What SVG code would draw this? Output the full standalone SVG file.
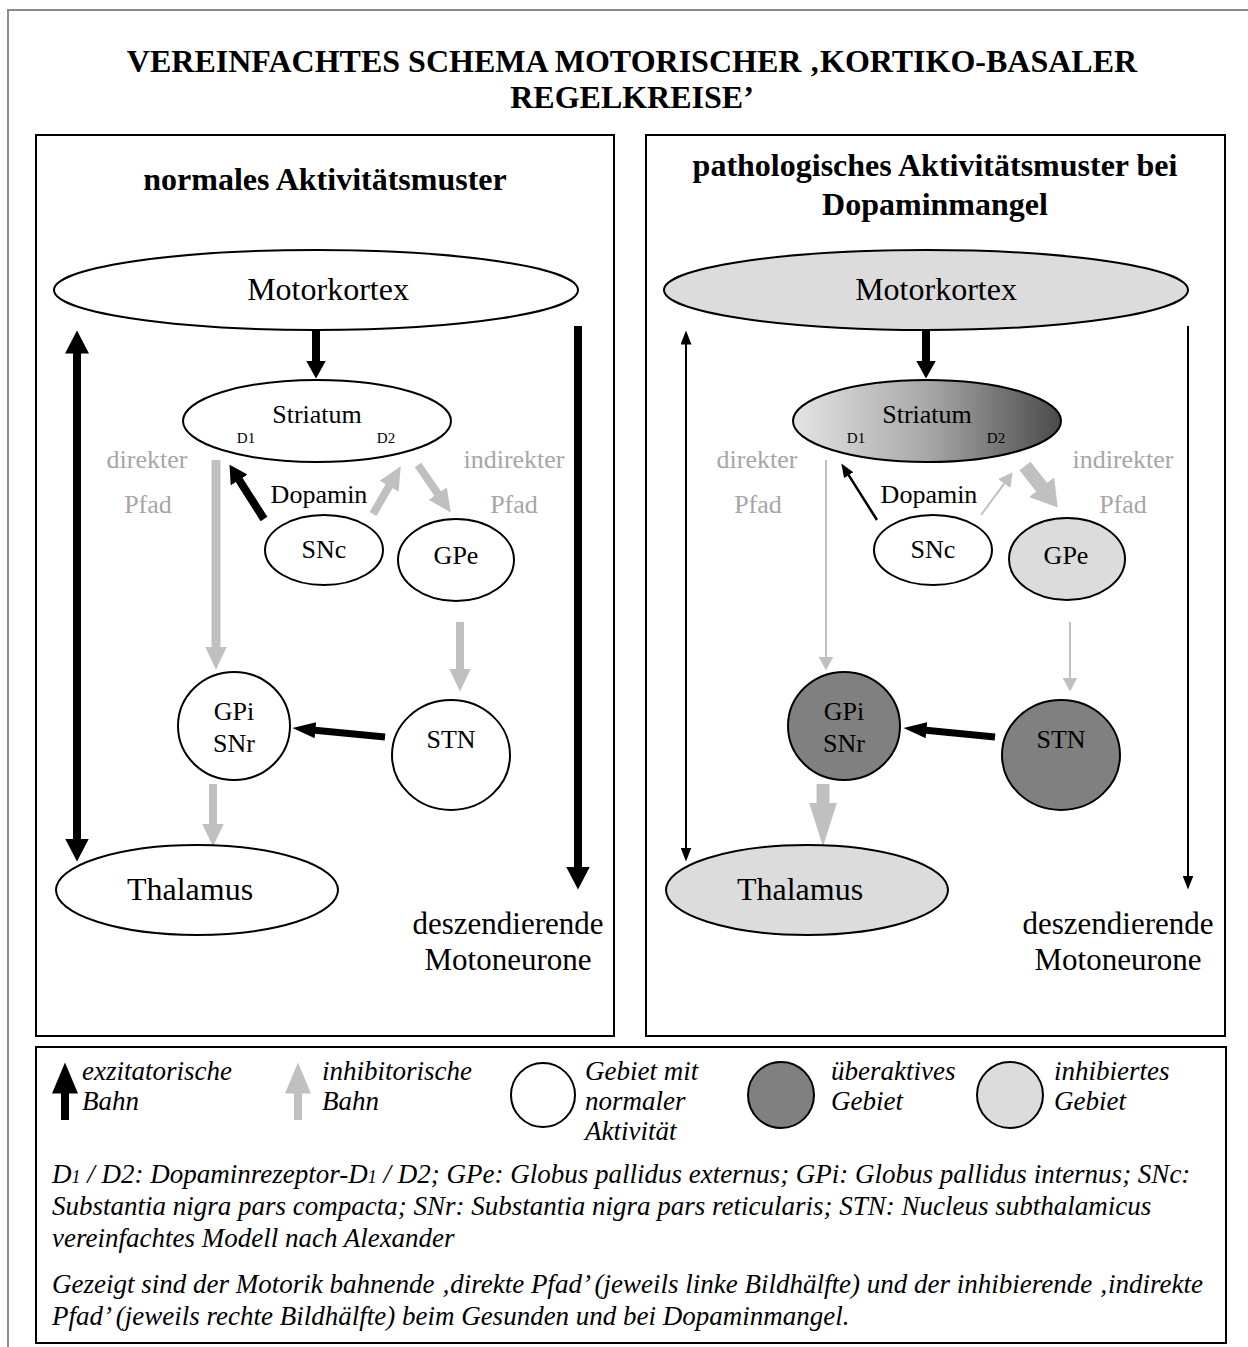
<svg xmlns="http://www.w3.org/2000/svg" width="1248" height="1347" viewBox="0 0 1248 1347">
<style>
text{font-family:"Liberation Serif","Times New Roman",serif;fill:#000}
.title{font-size:32px;font-weight:bold;text-anchor:middle}
.big{font-size:32px;text-anchor:middle}
.desc{font-size:31px;text-anchor:middle}
.mid{font-size:26px;text-anchor:middle}
.sm{font-size:15px;text-anchor:middle}
.path{font-size:26px;text-anchor:middle;fill:#a6a6a6}
.leg{font-size:27px;font-style:italic}
.node{stroke:#000;stroke-width:2}
.w{fill:#fff}
.lg{fill:#dcdcdc}
.dk{fill:#808080}
.panel{fill:none;stroke:#000;stroke-width:2}
.bk{stroke:#000;fill:none}
.gy{stroke:#c0c0c0;fill:none}
</style>
<defs>
<linearGradient id="strGrad" x1="0" y1="0" x2="1" y2="0">
<stop offset="0" stop-color="#e4e4e4"/>
<stop offset="0.5" stop-color="#a8a8a8"/>
<stop offset="1" stop-color="#4a4a4a"/>
</linearGradient>
<marker id="mBL" markerUnits="userSpaceOnUse" markerWidth="24" markerHeight="24" refX="0.5" refY="12" orient="auto-start-reverse"><path d="M0,0 L23,12 L0,24 z" fill="#000"/></marker>
<marker id="mBM" markerUnits="userSpaceOnUse" markerWidth="20" markerHeight="20" refX="0.5" refY="10" orient="auto"><path d="M0,0 L18,10 L0,20 z" fill="#000"/></marker>
<marker id="mBS" markerUnits="userSpaceOnUse" markerWidth="24" markerHeight="16" refX="0.5" refY="8" orient="auto"><path d="M0,0 L23,8 L0,16 z" fill="#000"/></marker>
<marker id="mBT" markerUnits="userSpaceOnUse" markerWidth="15" markerHeight="11" refX="0.5" refY="5.5" orient="auto-start-reverse"><path d="M0,0 L14,5.5 L0,11 z" fill="#000"/></marker>
<marker id="mG" markerUnits="userSpaceOnUse" markerWidth="24" markerHeight="22" refX="0.5" refY="11" orient="auto"><path d="M0,0 L23,11 L0,22 z" fill="#c0c0c0"/></marker>
<marker id="mGT" markerUnits="userSpaceOnUse" markerWidth="15" markerHeight="15" refX="0.5" refY="7.5" orient="auto"><path d="M0,0 L14,7.5 L0,15 z" fill="#c0c0c0"/></marker>
<marker id="mGL" markerUnits="userSpaceOnUse" markerWidth="27" markerHeight="32" refX="0.5" refY="16" orient="auto"><path d="M0,0 L26,16 L0,32 z" fill="#c0c0c0"/></marker>
<marker id="mGXL" markerUnits="userSpaceOnUse" markerWidth="45" markerHeight="28" refX="0.5" refY="14" orient="auto"><path d="M0,0 L44,14 L0,28 z" fill="#c0c0c0"/></marker>
<marker id="mLB" markerUnits="userSpaceOnUse" markerWidth="32" markerHeight="26" refX="0.5" refY="13" orient="auto"><path d="M0,0 L31,13 L0,26 z" fill="#000"/></marker>
<marker id="mLG" markerUnits="userSpaceOnUse" markerWidth="32" markerHeight="26" refX="0.5" refY="13" orient="auto"><path d="M0,0 L31,13 L0,26 z" fill="#c0c0c0"/></marker>
</defs>

<rect width="1248" height="1347" fill="#fff"/>
<polyline points="8,1347 8,10 1248,10" fill="none" stroke="#8c8c8c" stroke-width="2"/>

<g id="title">
<text class="title" x="632" y="72">VEREINFACHTES SCHEMA MOTORISCHER ‚KORTIKO-BASALER</text>
<text class="title" x="632" y="108">REGELKREISE’</text>
</g>

<g id="panel-left">
<rect class="panel" x="36" y="135" width="578" height="901"/>
<text class="title" x="325" y="190">normales Aktivitätsmuster</text>
<text class="path" x="147" y="468">direkter</text>
<text class="path" x="148" y="513">Pfad</text>
<text class="path" x="514" y="468">indirekter</text>
<text class="path" x="514" y="513">Pfad</text>
<text class="mid" x="319" y="503">Dopamin</text>
<text class="desc" x="508" y="934">deszendierende</text>
<text class="desc" x="508" y="970">Motoneurone</text>
</g>

<g id="panel-right">
<rect class="panel" x="646" y="135" width="579" height="901"/>
<text class="title" x="935" y="176">pathologisches Aktivitätsmuster bei</text>
<text class="title" x="935" y="215">Dopaminmangel</text>
<text class="path" x="757" y="468">direkter</text>
<text class="path" x="758" y="513">Pfad</text>
<text class="path" x="1123" y="468">indirekter</text>
<text class="path" x="1123" y="513">Pfad</text>
<text class="mid" x="929" y="503">Dopamin</text>
<text class="desc" x="1118" y="934">deszendierende</text>
<text class="desc" x="1118" y="970">Motoneurone</text>
</g>

<g id="connectors">
<line class="bk" x1="316" y1="331" x2="316" y2="361" stroke-width="8" marker-end="url(#mBM)"/>
<line class="bk" x1="77" y1="353" x2="77" y2="839" stroke-width="8" marker-start="url(#mBL)" marker-end="url(#mBL)"/>
<line class="bk" x1="578" y1="326" x2="578" y2="867" stroke-width="8" marker-end="url(#mBL)"/>
<line class="bk" x1="264" y1="519" x2="238.9" y2="479.6" stroke-width="8" marker-end="url(#mBM)"/>
<line class="gy" x1="373" y1="514" x2="389.4" y2="485.8" stroke-width="8" marker-end="url(#mG)"/>
<line class="gy" x1="418" y1="465" x2="438" y2="494" stroke-width="8" marker-end="url(#mG)"/>
<line class="gy" x1="216" y1="460" x2="216" y2="647" stroke-width="9" marker-end="url(#mG)"/>
<line class="gy" x1="460" y1="622" x2="460" y2="669" stroke-width="8" marker-end="url(#mG)"/>
<line class="bk" x1="385" y1="737" x2="314.9" y2="730.2" stroke-width="7" marker-end="url(#mBS)"/>
<line class="gy" x1="213" y1="784" x2="213" y2="824" stroke-width="8" marker-end="url(#mG)"/>
<line class="bk" x1="926" y1="331" x2="926" y2="361" stroke-width="8" marker-end="url(#mBM)"/>
<line class="bk" x1="686" y1="344" x2="686" y2="848" stroke-width="2" marker-start="url(#mBT)" marker-end="url(#mBT)"/>
<line class="bk" x1="1188" y1="326" x2="1188" y2="876" stroke-width="2" marker-end="url(#mBT)"/>
<line class="bk" x1="877" y1="520" x2="848.5" y2="474.8" stroke-width="2.5" marker-end="url(#mBT)"/>
<line class="gy" x1="981" y1="515" x2="1004.6" y2="483.2" stroke-width="2" marker-end="url(#mGT)"/>
<line class="gy" x1="1025" y1="466" x2="1041.9" y2="487.5" stroke-width="14" marker-end="url(#mGL)"/>
<line class="gy" x1="826" y1="460" x2="826" y2="657" stroke-width="2" marker-end="url(#mGT)"/>
<line class="gy" x1="1070" y1="622" x2="1070" y2="678" stroke-width="2" marker-end="url(#mGT)"/>
<line class="bk" x1="995" y1="737" x2="925.9" y2="730.2" stroke-width="7" marker-end="url(#mBS)"/>
<line class="gy" x1="823" y1="784" x2="823" y2="803" stroke-width="13" marker-end="url(#mGXL)"/>
</g>

<g id="node-motorkortex-l"><ellipse class="node w" cx="316" cy="290" rx="262" ry="40"/><text class="big" x="328" y="300">Motorkortex</text></g>
<g id="node-striatum-l"><ellipse class="node w" cx="317" cy="421" rx="134" ry="41"/><text class="mid" x="317" y="423">Striatum</text><text class="sm" x="246" y="443">D1</text><text class="sm" x="386" y="443">D2</text></g>
<g id="node-snc-l"><ellipse class="node w" cx="324" cy="550" rx="59" ry="35"/><text class="mid" x="324" y="558">SNc</text></g>
<g id="node-gpe-l"><ellipse class="node w" cx="456" cy="560" rx="58" ry="41"/><text class="mid" x="456" y="564">GPe</text></g>
<g id="node-gpi-l"><ellipse class="node w" cx="234" cy="726" rx="56" ry="54"/><text class="mid" x="234" y="720">GPi</text><text class="mid" x="234" y="752">SNr</text></g>
<g id="node-stn-l"><ellipse class="node w" cx="451" cy="755" rx="59" ry="55"/><text class="mid" x="451" y="748">STN</text></g>
<g id="node-thalamus-l"><ellipse class="node w" cx="197" cy="890" rx="141" ry="45"/><text class="big" x="190" y="900">Thalamus</text></g>

<g id="node-motorkortex-r"><ellipse class="node lg" cx="926" cy="290" rx="262" ry="40"/><text class="big" x="936" y="300">Motorkortex</text></g>
<g id="node-striatum-r"><ellipse class="node" fill="url(#strGrad)" cx="927" cy="421" rx="134" ry="41"/><text class="mid" x="927" y="423">Striatum</text><text class="sm" x="856" y="443">D1</text><text class="sm" x="996" y="443">D2</text></g>
<g id="node-snc-r"><ellipse class="node w" cx="933" cy="550" rx="59" ry="35"/><text class="mid" x="933" y="558">SNc</text></g>
<g id="node-gpe-r"><ellipse class="node lg" cx="1067" cy="559" rx="58" ry="41"/><text class="mid" x="1066" y="564">GPe</text></g>
<g id="node-gpi-r"><ellipse class="node dk" cx="844" cy="726" rx="56" ry="54"/><text class="mid" x="844" y="720">GPi</text><text class="mid" x="844" y="752">SNr</text></g>
<g id="node-stn-r"><ellipse class="node dk" cx="1061" cy="755" rx="59" ry="55"/><text class="mid" x="1061" y="748">STN</text></g>
<g id="node-thalamus-r"><ellipse class="node lg" cx="807" cy="890" rx="141" ry="45"/><text class="big" x="800" y="900">Thalamus</text></g>

<g id="legend">
<rect class="panel" x="36" y="1047" width="1190" height="296"/>
<line class="bk" x1="65" y1="1120" x2="65" y2="1093" stroke-width="8" marker-end="url(#mLB)"/>
<text class="leg" x="82" y="1080">exzitatorische</text>
<text class="leg" x="82" y="1110">Bahn</text>
<line class="gy" x1="298" y1="1120" x2="298" y2="1093" stroke-width="8" marker-end="url(#mLG)"/>
<text class="leg" x="322" y="1080">inhibitorische</text>
<text class="leg" x="322" y="1110">Bahn</text>
<circle class="node w" cx="543" cy="1095" r="32"/>
<text class="leg" x="585" y="1080">Gebiet mit</text>
<text class="leg" x="585" y="1110">normaler</text>
<text class="leg" x="585" y="1140">Aktivität</text>
<circle class="node dk" cx="781" cy="1095" r="33"/>
<text class="leg" x="831" y="1080">überaktives</text>
<text class="leg" x="831" y="1110">Gebiet</text>
<circle class="node lg" cx="1010" cy="1095" r="33"/>
<text class="leg" x="1054" y="1080">inhibiertes</text>
<text class="leg" x="1054" y="1110">Gebiet</text>
<text class="leg" x="52" y="1183">D<tspan font-size="18">1</tspan> / D2: Dopaminrezeptor-D<tspan font-size="18">1</tspan> / D2; GPe: Globus pallidus externus; GPi: Globus pallidus internus; SNc:</text>
<text class="leg" x="52" y="1215">Substantia nigra pars compacta; SNr: Substantia nigra pars reticularis; STN: Nucleus subthalamicus</text>
<text class="leg" x="52" y="1247">vereinfachtes Modell nach Alexander</text>
<text class="leg" x="52" y="1293">Gezeigt sind der Motorik bahnende ‚direkte Pfad’ (jeweils linke Bildhälfte) und der inhibierende ‚indirekte</text>
<text class="leg" x="52" y="1325">Pfad’ (jeweils rechte Bildhälfte) beim Gesunden und bei Dopaminmangel.</text>
</g>
</svg>
